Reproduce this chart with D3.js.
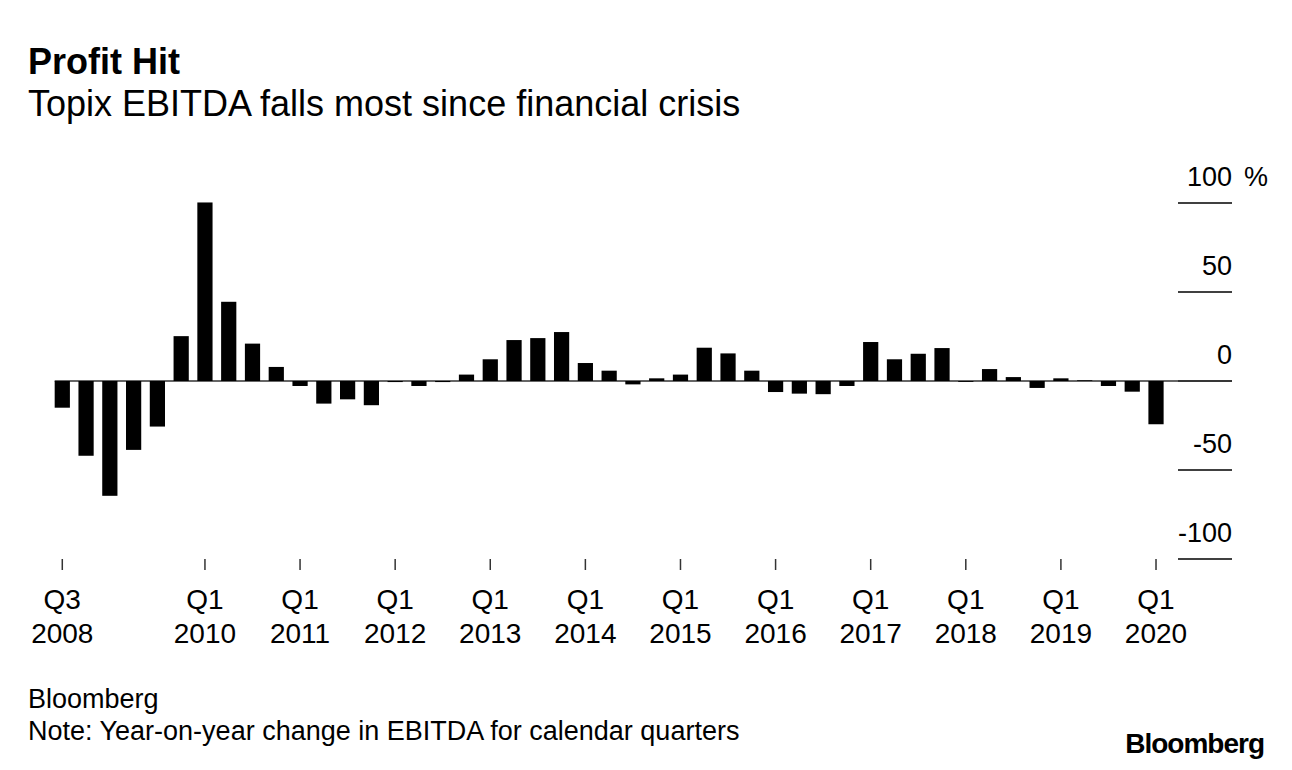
<!DOCTYPE html>
<html>
<head>
	<title>Profit Hit</title>
	<script src="https://cdn.jsdelivr.net/npm/d3@7"></script>
	<style>
		body { margin: 0; background: #fff; }
		text { font-family: "Liberation Sans", Arial, sans-serif; fill: #000; }
	</style>
</head>
<body>
	<svg id="chart" width="1292" height="770"></svg>

	<script>
		// quarterly YoY change in Topix EBITDA, %
		var quarters = [
			'Q3 2008', 'Q4 2008',
			'Q1 2009', 'Q2 2009', 'Q3 2009', 'Q4 2009',
			'Q1 2010', 'Q2 2010', 'Q3 2010', 'Q4 2010',
			'Q1 2011', 'Q2 2011', 'Q3 2011', 'Q4 2011',
			'Q1 2012', 'Q2 2012', 'Q3 2012', 'Q4 2012',
			'Q1 2013', 'Q2 2013', 'Q3 2013', 'Q4 2013',
			'Q1 2014', 'Q2 2014', 'Q3 2014', 'Q4 2014',
			'Q1 2015', 'Q2 2015', 'Q3 2015', 'Q4 2015',
			'Q1 2016', 'Q2 2016', 'Q3 2016', 'Q4 2016',
			'Q1 2017', 'Q2 2017', 'Q3 2017', 'Q4 2017',
			'Q1 2018', 'Q2 2018', 'Q3 2018', 'Q4 2018',
			'Q1 2019', 'Q2 2019', 'Q3 2019', 'Q4 2019',
			'Q1 2020'
		];
		var values = [
			-15, -42,
			-64.5, -38.7, -25.6, 25.2,
			100.3, 44.5, 21, 7.9,
			-2.8, -12.7, -10.3, -13.6,
			-0.6, -2.8, -0.6, 3.6,
			12.2, 23, 24.1, 27.5,
			10.1, 5.8, -1.9, 1.5,
			3.6, 18.7, 15.5, 5.8,
			-6.2, -7.1, -7.4, -2.8,
			21.9, 12.2, 15.3, 18.5,
			-0.5, 6.7, 2.2, -3.9,
			1.5, 0.4, -2.8, -6,
			-24.3
		];
		var xTicks = ['Q3 2008', 'Q1 2010', 'Q1 2011', 'Q1 2012', 'Q1 2013', 'Q1 2014',
			'Q1 2015', 'Q1 2016', 'Q1 2017', 'Q1 2018', 'Q1 2019', 'Q1 2020'];
		var yTicks = [100, 50, 0, -50, -100];

		var svg = d3.select('#chart');

		var x = d3.scaleBand()
			.domain(quarters)
			.range([50.4, 1167.9])
			.paddingInner(0.36)
			.paddingOuter(0.18);

		var y = d3.scaleLinear()
			.domain([-100, 100])
			.range([559, 203]);

		// titles
		svg.append('text')
			.attr('x', 28).attr('y', 74)
			.style('font-size', '36px').style('font-weight', 'bold')
			.text('Profit Hit');
		svg.append('text')
			.attr('x', 28).attr('y', 116)
			.style('font-size', '36px')
			.text('Topix EBITDA falls most since financial crisis');

		// y axis: short rules at the right with labels above
		var yAxis = svg.append('g').attr('class', 'y-axis');
		yAxis.selectAll('line')
			.data(yTicks)
			.enter()
			.append('line')
			.attr('x1', 1178).attr('x2', 1232)
			.attr('y1', d => y(d)).attr('y2', d => y(d))
			.attr('stroke', '#000')
			.attr('stroke-width', 1.5);
		yAxis.selectAll('text')
			.data(yTicks)
			.enter()
			.append('text')
			.attr('x', 1232)
			.attr('y', d => y(d) - 17)
			.attr('text-anchor', 'end')
			.style('font-size', '27px')
			.text(d => d);
		yAxis.append('text')
			.attr('x', 1244).attr('y', y(100) - 17)
			.style('font-size', '27px')
			.text('%');

		// zero line
		svg.append('line')
			.attr('x1', x(quarters[0])).attr('x2', 1232)
			.attr('y1', y(0)).attr('y2', y(0))
			.attr('stroke', '#333')
			.attr('stroke-width', 1.5);

		// bars
		svg.selectAll('.bar')
			.data(values)
			.enter()
			.append('rect')
			.attr('class', 'bar')
			.attr('x', (d, i) => x(quarters[i]))
			.attr('width', x.bandwidth())
			.attr('y', d => y(Math.max(0, d)))
			.attr('height', d => Math.abs(y(d) - y(0)))
			.attr('fill', '#000');

		// x axis ticks and two-line labels
		var xAxis = svg.append('g').attr('class', 'x-axis');
		var cx = q => x(q) + x.bandwidth() / 2;
		xAxis.selectAll('line')
			.data(xTicks)
			.enter()
			.append('line')
			.attr('x1', cx).attr('x2', cx)
			.attr('y1', 559).attr('y2', 570)
			.attr('stroke', '#333')
			.attr('stroke-width', 1.5);
		var lbl = xAxis.selectAll('text')
			.data(xTicks)
			.enter()
			.append('text')
			.attr('text-anchor', 'middle')
			.style('font-size', '28px');
		lbl.append('tspan')
			.attr('x', cx).attr('y', 609)
			.text(d => d.split(' ')[0]);
		lbl.append('tspan')
			.attr('x', cx).attr('y', 643)
			.text(d => d.split(' ')[1]);

		// footer
		svg.append('text')
			.attr('x', 28).attr('y', 708)
			.style('font-size', '27px')
			.text('Bloomberg');
		svg.append('text')
			.attr('x', 28).attr('y', 740)
			.style('font-size', '27px')
			.text('Note: Year-on-year change in EBITDA for calendar quarters');
		svg.append('text')
			.attr('x', 1264).attr('y', 753)
			.attr('text-anchor', 'end')
			.style('font-size', '28px').style('font-weight', 'bold')
			.style('letter-spacing', '-1px')
			.text('Bloomberg');
	</script>
</body>
</html>
